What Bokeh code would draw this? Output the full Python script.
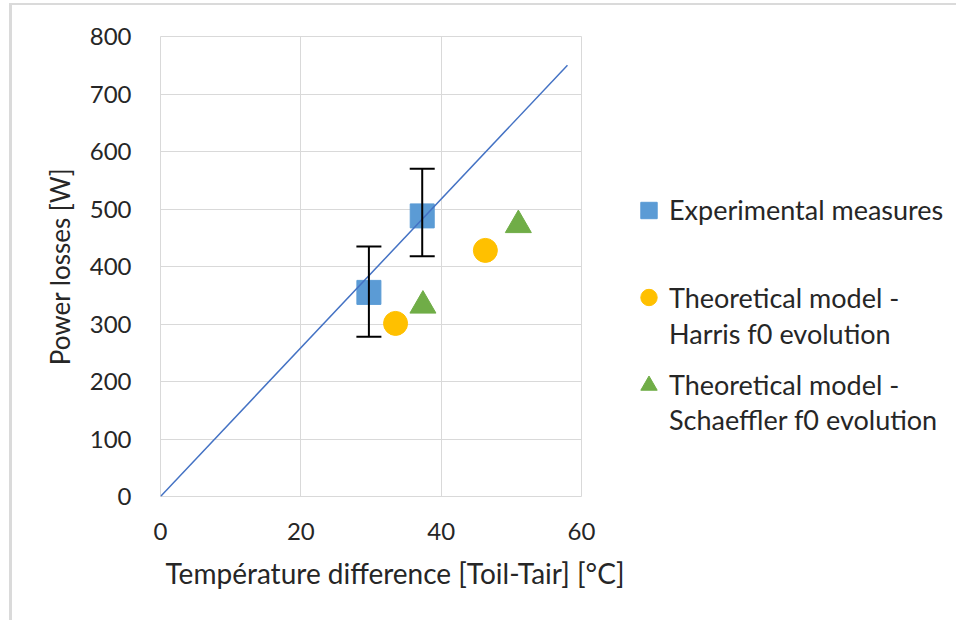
from bokeh.plotting import figure
from bokeh.layouts import row
from bokeh.models import (ColumnDataSource, Whisker, TeeHead, Legend, LegendItem,
                          Title, FixedTicker)
from bokeh.embed import file_html
from bokeh.resources import INLINE

# ---------------- data ----------------
exp_x = [29.7, 37.3]
exp_y = [355, 488]
err_upper = [435, 570]
err_lower = [278, 418]

harris_x = [33.5, 46.3]
harris_y = [301, 428]

schaeffler_x = [37.4, 51.0]
schaeffler_y = [332, 472]

fit_x = [0, 58]
fit_y = [0, 750]

x_ticks = [0, 20, 40, 60]
y_ticks = [0, 100, 200, 300, 400, 500, 600, 700, 800]

x_title = "Température difference [Toil-Tair] [°C]"
y_title = "Power losses [W]"
legend_labels = ["Experimental measures",
                 "Theoretical model -", "Harris f0 evolution",
                 "Theoretical model -", "Schaeffler f0 evolution"]

# ---------------- style ----------------
FONT = "Lato"
TXT = "#262626"
GRID = "#d9d9d9"
BLUE, ORANGE, GREEN, LINE = "#5B9BD5", "#FFC000", "#70AD47", "#4472C4"

H = 615
W1, W2 = 616, 328

p = figure(width=W1, height=H, x_range=(0, 60), y_range=(0, 800),
           output_backend="svg", toolbar_location=None,
           min_border_left=148, min_border_right=47,
           min_border_top=31, min_border_bottom=124)
p.outline_line_color = GRID
p.background_fill_color = "white"
p.border_fill_color = "white"

p.xaxis.ticker = FixedTicker(ticks=x_ticks)
p.yaxis.ticker = FixedTicker(ticks=y_ticks)
p.grid.grid_line_color = GRID
p.grid.grid_line_width = 1
p.axis.axis_line_color = None
p.axis.major_tick_line_color = None
p.axis.minor_tick_line_color = None
p.axis.major_tick_out = 0
p.axis.major_tick_in = 0
p.axis.minor_tick_out = 0
p.axis.minor_tick_in = 0
p.axis.major_label_text_font = FONT
p.axis.major_label_text_font_size = "24px"
p.axis.major_label_text_color = TXT
p.yaxis.major_label_standoff = 29
p.xaxis.major_label_standoff = 26

p.yaxis.axis_label = y_title
p.yaxis.axis_label_text_font = FONT
p.yaxis.axis_label_text_font_size = "26px"
p.yaxis.axis_label_text_font_style = "normal"
p.yaxis.axis_label_text_color = TXT
p.yaxis.axis_label_standoff = 11

xt = Title(text=x_title, align="left", offset=5, text_font=FONT,
           text_font_size="28px", text_font_style="normal",
           text_color=TXT, standoff=22)
p.add_layout(xt, "below")

# ---------------- glyphs ----------------
r_exp = p.scatter(exp_x, exp_y, marker="square", size=24,
                  fill_color=BLUE, line_color=BLUE)
r_har = p.scatter(harris_x, harris_y, marker="circle", size=24,
                  fill_color=ORANGE, line_color=ORANGE)
r_sch = p.scatter(schaeffler_x, schaeffler_y, marker="triangle", size=26,
                  fill_color=GREEN, line_color=GREEN)
p.line(fit_x, fit_y, line_color=LINE, line_width=1.5)

src = ColumnDataSource(dict(x=exp_x, upper=err_upper, lower=err_lower))
wh = Whisker(base="x", upper="upper", lower="lower", source=src,
             dimension="height", line_color="black", line_width=2,
             upper_head=TeeHead(size=25, line_color="black", line_width=2),
             lower_head=TeeHead(size=25, line_color="black", line_width=2),
             level="annotation")
p.add_layout(wh)

# ---------------- legend panel (separate figure to the right) ----------------
# its ranges do not include the data, so its own copies of the series stay
# hidden and only serve as legend keys
q = figure(width=W2, height=H, x_range=(-1, -0.5), y_range=(-1, -0.5),
           output_backend="svg", toolbar_location=None,
           min_border=0, min_border_left=0, min_border_right=0,
           min_border_top=0, min_border_bottom=0)
q.axis.visible = False
q.grid.visible = False
q.outline_line_color = None
q.background_fill_color = "white"
q.border_fill_color = "white"

k_exp = q.scatter(exp_x, exp_y, marker="square", fill_color=BLUE, line_color=BLUE)
k_har = q.scatter(harris_x, harris_y, marker="circle",
                  fill_color=ORANGE, line_color=ORANGE)
k_sch = q.scatter(schaeffler_x, schaeffler_y, marker="triangle",
                  fill_color=GREEN, line_color=GREEN)
k_blank = q.scatter(exp_x, exp_y, marker="circle", fill_alpha=0, line_alpha=0)


def make_legend(label, rend, y):
    lg = Legend(items=[LegendItem(label=label, renderers=[rend])],
                location=(0, y),
                label_text_font=FONT, label_text_font_size="27px",
                label_text_color=TXT,
                glyph_width=41, glyph_height=42, label_height=36,
                label_standoff=-5, padding=0, margin=0, spacing=0,
                border_line_color=None, background_fill_alpha=0)
    q.add_layout(lg)
    return lg


make_legend(legend_labels[0], k_exp, 265.5)
make_legend(legend_labels[1], k_har, 177.7)
make_legend(legend_labels[2], k_blank, 141.8)
make_legend(legend_labels[3], k_sch, 90.5)
make_legend(legend_labels[4], k_blank, 55.5)

layout = row(p, q, spacing=0,
             styles={"margin-left": "9px", "margin-top": "3px",
                     "border-left": "3px solid #dadada",
                     "border-top": "2px solid #dadada"})
open("out.html", "w").write(file_html(layout, INLINE))
